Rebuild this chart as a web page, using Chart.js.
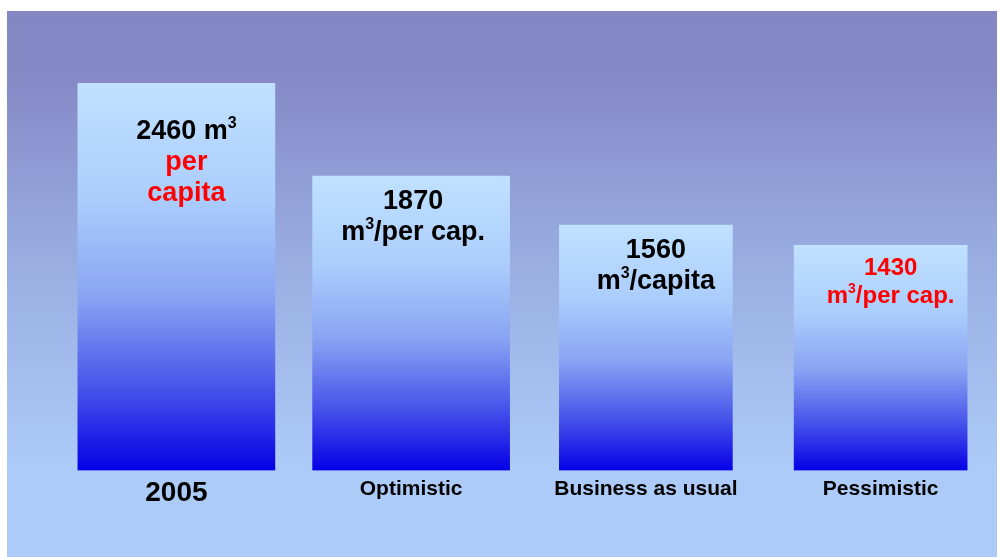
<!DOCTYPE html>
<html>
<head>
<meta charset="utf-8">
<script src="https://cdn.jsdelivr.net/npm/chart.js@4/dist/chart.umd.min.js"></script>
<style>
  html, body { margin: 0; padding: 0; background: #fff; overflow: hidden; }
  #wrap { width: 998px; height: 557px; position: relative; }
</style>
</head>
<body>
<div id="wrap"><canvas id="water"></canvas></div>
<script>
// water availability scenarios
const scenarios = ['2005', 'Optimistic', 'Business as usual', 'Pessimistic'];
const perCapita = [2460, 1870, 1560, 1430];
const wideBars = [true, true, false, false];

// in-bar captions: lines of [text, superscript] runs
const captionLines = [
    [[['2460 m', false], ['3', true]], [['per', false]], [['capita', false]]],
    [[['1870', false]], [['m', false], ['3', true], ['/per cap.', false]]],
    [[['1560', false]], [['m', false], ['3', true], ['/capita', false]]],
    [[['1430', false]], [['m', false], ['3', true], ['/per cap.', false]]]
];
const captionColors = [
    ['#000000', '#ff0000', '#ff0000'],
    ['#000000', '#000000'],
    ['#000000', '#000000'],
    ['#ff0000', '#ff0000']
];

const FONT = "'Liberation Sans', Arial, sans-serif";

// vertical gradient from the bar's top down to the axis
function barFill(ctx) {
    const y = ctx.chart.scales.y;
    if (!y || ctx.raw === null || ctx.raw === undefined) return '#8aa6f2';
    const top = y.getPixelForValue(ctx.raw);
    const bottom = y.getPixelForValue(0);
    if (!isFinite(top) || !isFinite(bottom) || top === bottom) return '#8aa6f2';
    const g = ctx.chart.ctx.createLinearGradient(0, top, 0, bottom);
    g.addColorStop(0, '#c0e1ff');
    g.addColorStop(0.3, '#abcdfc');
    g.addColorStop(0.55, '#8aa4f3');
    g.addColorStop(0.78, '#4a56ea');
    g.addColorStop(1, '#0600e6');
    return g;
}

const slideBackground = {
    id: 'slideBackground',
    beforeDraw(chart) {
        const c = chart.ctx;
        const g = c.createLinearGradient(0, 11, 0, 470);
        g.addColorStop(0, '#8387c4');
        g.addColorStop(0.15, '#858ac7');
        g.addColorStop(0.5, '#97aadf');
        g.addColorStop(1, '#adcbf8');
        c.save();
        c.fillStyle = g;
        c.fillRect(7, 11, 990, 546);
        c.restore();
    }
};

const barCaptions = {
    id: 'barCaptions',
    afterDatasetsDraw(chart) {
        const c = chart.ctx;
        c.save();
        c.textBaseline = 'alphabetic';
        c.textAlign = 'left';
        perCapita.forEach((v, i) => {
            const dsIndex = wideBars[i] ? 0 : 1;
            const bar = chart.getDatasetMeta(dsIndex).data[i];
            if (!bar) return;
            const size = i === 3 ? 24 : 27;
            const first = i === 0 ? 56 : (i === 3 ? 30 : 33);
            const step = i === 3 ? 28 : 31;
            const cx = bar.x + (i === 1 ? 2 : 10);
            captionLines[i].forEach((runs, li) => {
                const y = bar.y + first + li * step;
                const widths = runs.map(([t, sup]) => {
                    c.font = 'bold ' + (sup ? Math.round(size * 0.6) : size) + 'px ' + FONT;
                    return c.measureText(t).width;
                });
                let x = cx - widths.reduce((a, b) => a + b, 0) / 2;
                c.fillStyle = captionColors[i][li];
                runs.forEach(([t, sup], k) => {
                    c.font = 'bold ' + (sup ? Math.round(size * 0.6) : size) + 'px ' + FONT;
                    c.fillText(t, x, sup ? y - size * 0.42 : y);
                    x += widths[k];
                });
            });
        });
        c.restore();
    }
};

new Chart(document.getElementById('water'), {
    type: 'bar',
    data: {
        labels: scenarios,
        datasets: [
            {
                data: perCapita.map((v, i) => wideBars[i] ? v : null),
                barThickness: 197,
                backgroundColor: barFill
            },
            {
                data: perCapita.map((v, i) => wideBars[i] ? null : v),
                barThickness: 173,
                backgroundColor: barFill
            }
        ]
    },
    options: {
        responsive: true,
        maintainAspectRatio: false,
        animation: false,
        grouped: false,
        layout: { padding: { left: 59, right: 0, top: 11, bottom: 41 } },
        plugins: {
            legend: { display: false },
            tooltip: { enabled: false }
        },
        scales: {
            x: {
                grid: { display: false, drawTicks: false },
                border: { display: false },
                ticks: {
                    color: '#000',
                    padding: 6,
                    autoSkip: false,
                    maxRotation: 0,
                    font: (ctx) => ({
                        family: FONT,
                        weight: 'bold',
                        size: ctx.index === 0 ? 28 : 21
                    })
                }
            },
            y: {
                display: false,
                min: 0,
                max: 2920
            }
        }
    },
    plugins: [slideBackground, barCaptions]
});
</script>
</body>
</html>
